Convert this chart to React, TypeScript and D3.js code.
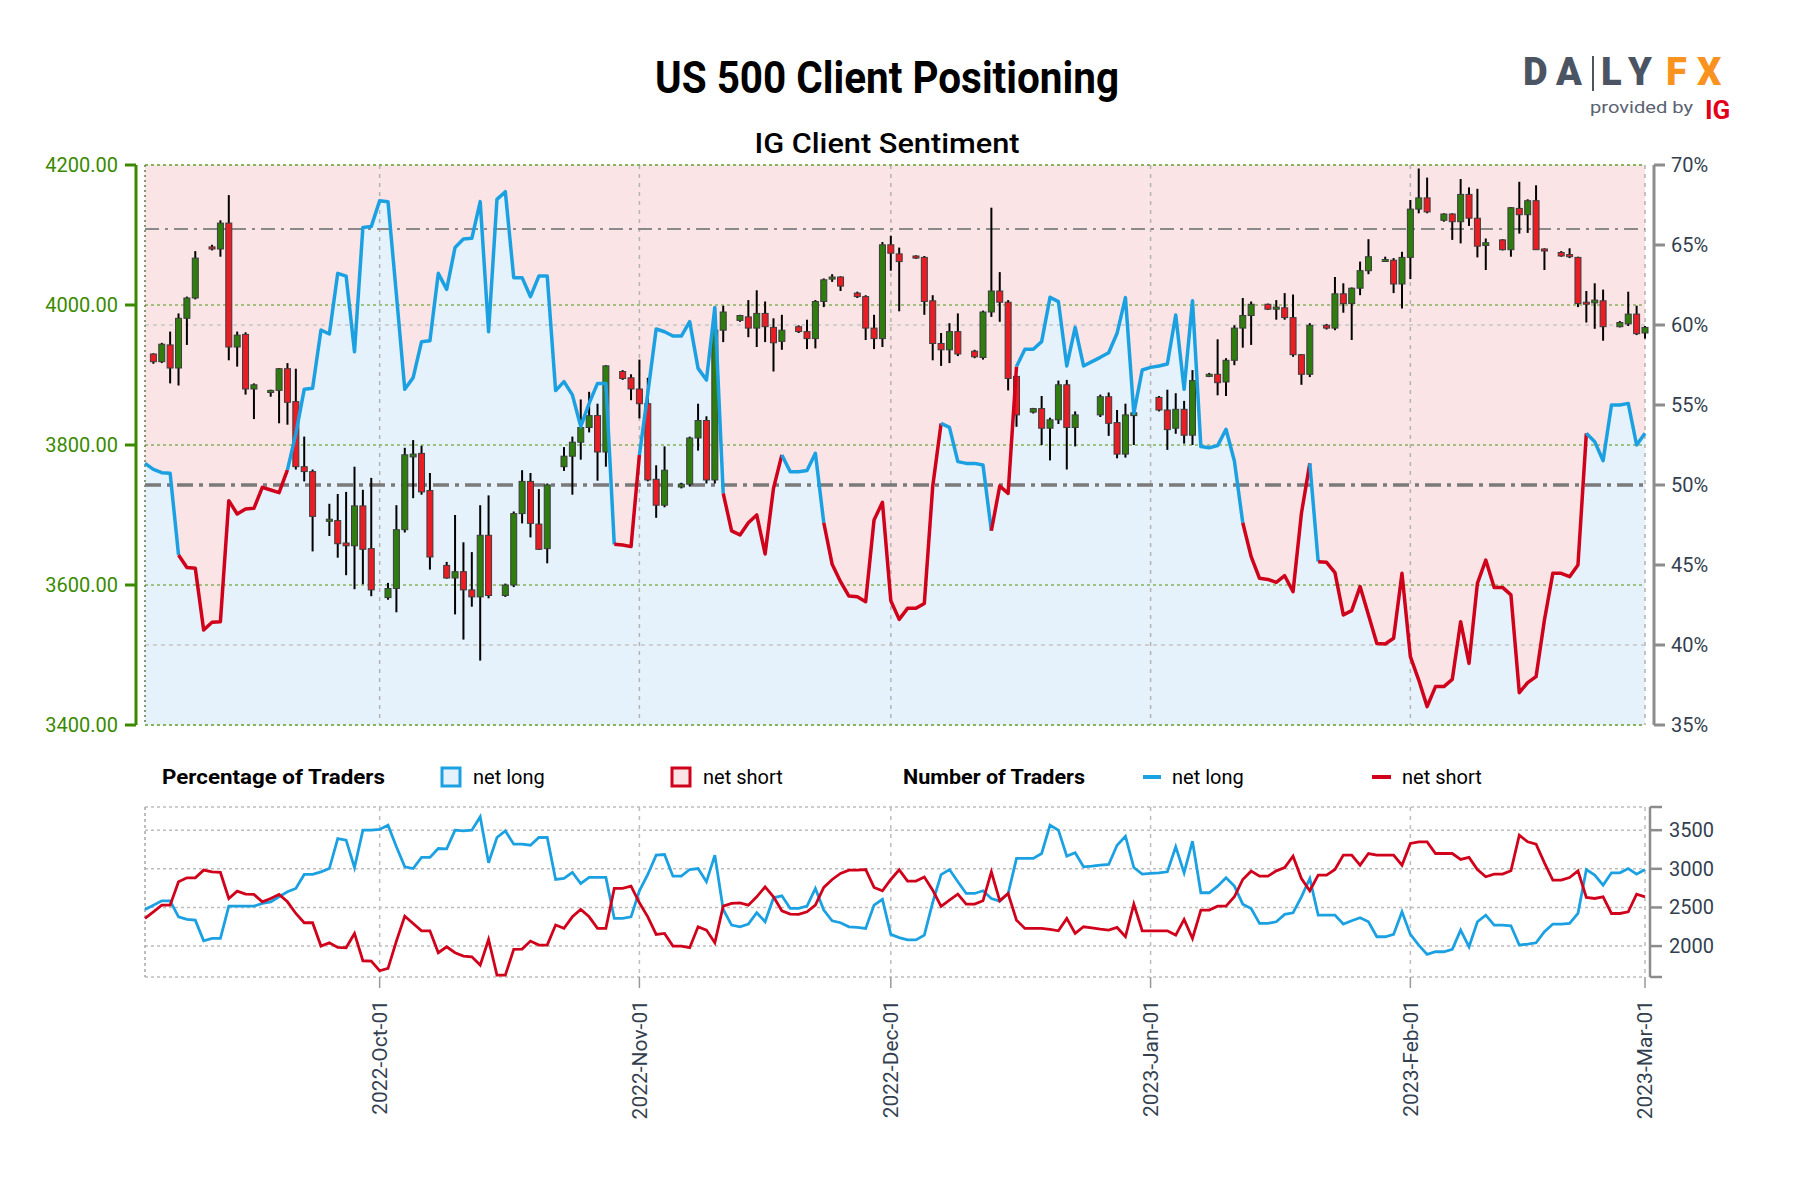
import React, { useRef, useEffect } from 'react';
import * as d3 from 'd3';

// ---- data ----

// sentiment / trader counts are daily points (weekends included)
const sentimentStart = '2022-09-03';
const sentimentEnd = '2023-03-01';

// % of clients net long
const netLongPct = [
  51.35, 50.98, 50.77, 50.73, 45.63, 44.85, 44.79, 40.94, 41.42, 41.46,
  49.02, 48.19, 48.5, 48.54, 49.85, 49.69, 49.52, 50.94, 53.2, 55.98,
  56.04, 59.69, 59.44, 63.23, 63.06, 58.33, 66.1, 66.15, 67.77, 67.71,
  61.9, 55.98, 56.71, 58.96, 59.02, 63.23, 62.23, 64.85, 65.38, 65.42,
  67.71, 59.58, 67.85, 68.33, 62.96, 62.96, 61.77, 63.06, 63.06, 55.9,
  56.46, 55.63, 53.65, 55.1, 56.35, 56.35, 46.29, 46.25, 46.15, 51.88,
  55.73, 59.75, 59.58, 59.31, 59.31, 60.21, 57.29, 56.56, 61.1, 49.48,
  47.13, 46.88, 47.64, 48.13, 45.69, 49.79, 51.88, 50.83, 50.83, 50.9,
  51.98, 47.64, 45.04, 43.96, 43.06, 43.02, 42.71, 47.81, 48.92, 42.77,
  41.6, 42.29, 42.29, 42.6, 49.9, 53.85, 53.6, 51.46, 51.35, 51.35,
  51.25, 47.14, 49.94, 49.48, 57.4, 58.48, 58.48, 58.96, 61.73, 61.46,
  57.44, 59.85, 57.44, 57.71, 57.98, 58.27, 59.48, 61.71, 54.48, 57.19,
  57.35, 57.44, 57.56, 60.63, 55.98, 61.52, 52.4, 52.33, 52.46, 53.48,
  51.5, 47.64, 45.52, 44.17, 44.1, 43.92, 44.33, 43.33, 48.23, 51.35,
  45.21, 45.17, 44.52, 41.88, 42.15, 43.65, 41.88, 40.1, 40.06, 40.42,
  44.48, 39.27, 37.81, 36.15, 37.4, 37.4, 37.85, 41.46, 38.85, 43.85,
  45.31, 43.6, 43.6, 43.13, 37.02, 37.65, 38.02, 41.56, 44.48, 44.48,
  44.27, 45.0, 53.23, 52.71, 51.52, 55.0, 55.0, 55.1, 52.5, 53.23
];

// number of traders net long
const longTraders = [
  2474, 2530, 2586, 2586, 2379, 2345, 2336, 2069, 2099, 2099,
  2517, 2517, 2517, 2517, 2552, 2573, 2638, 2703, 2746, 2927,
  2927, 2961, 3004, 3392, 3371, 3017, 3500, 3500, 3509, 3565,
  3285, 3026, 3004, 3147, 3147, 3263, 3259, 3500, 3491, 3500,
  3672, 3078, 3405, 3491, 3319, 3319, 3306, 3405, 3405, 2862,
  2875, 2953, 2810, 2888, 2888, 2888, 2358, 2358, 2379, 2716,
  2927, 3177, 3185, 2905, 2905, 2991, 3004, 2832, 3177, 2474,
  2272, 2250, 2285, 2431, 2315, 2625, 2651, 2487, 2487, 2517,
  2746, 2466, 2328, 2302, 2250, 2241, 2229, 2530, 2604, 2151,
  2110, 2080, 2080, 2142, 2565, 2925, 2991, 2832, 2681, 2681,
  2716, 2616, 2582, 2681, 3134, 3134, 3134, 3198, 3565, 3500,
  3164, 3207, 3026, 3034, 3047, 3056, 3306, 3422, 3017, 2931,
  2940, 2948, 2961, 3285, 2948, 3358, 2690, 2690, 2776, 2884,
  2776, 2543, 2487, 2293, 2293, 2315, 2410, 2431, 2638, 2875,
  2401, 2401, 2401, 2285, 2328, 2367, 2315, 2121, 2121, 2151,
  2444, 2151, 2013, 1892, 1927, 1927, 1957, 2207, 1991, 2315,
  2401, 2272, 2272, 2263, 2013, 2026, 2043, 2186, 2285, 2285,
  2293, 2422, 2991, 2918, 2789, 2948, 2948, 3004, 2931, 2991
];

// number of traders net short
const shortTraders = [
  2358, 2444, 2530, 2530, 2832, 2884, 2884, 2983, 2961, 2953,
  2616, 2711, 2672, 2668, 2573, 2616, 2668, 2573, 2422, 2302,
  2302, 2000, 2043, 1983, 1979, 2164, 1810, 1806, 1681, 1711,
  2065, 2388, 2293, 2198, 2198, 1914, 1991, 1914, 1871, 1862,
  1754, 2086, 1625, 1625, 1957, 1961, 2065, 2013, 2013, 2272,
  2229, 2379, 2474, 2379, 2229, 2229, 2746, 2746, 2776, 2560,
  2379, 2151, 2164, 2000, 2000, 1979, 2250, 2207, 2043, 2517,
  2552, 2560, 2530, 2638, 2767, 2638, 2457, 2414, 2410, 2444,
  2530, 2759, 2862, 2940, 2983, 2983, 2991, 2759, 2716, 2862,
  2987, 2841, 2841, 2893, 2724, 2513, 2595, 2672, 2543, 2543,
  2586, 2961, 2586, 2681, 2336, 2229, 2229, 2229, 2216, 2198,
  2358, 2164, 2250, 2237, 2220, 2207, 2241, 2121, 2543, 2198,
  2198, 2198, 2198, 2142, 2345, 2099, 2466, 2466, 2517, 2517,
  2638, 2862, 2970, 2905, 2905, 2974, 3017, 3164, 2875, 2716,
  2918, 2918, 2991, 3177, 3177, 3047, 3198, 3177, 3177, 3177,
  3047, 3328, 3349, 3349, 3198, 3198, 3198, 3121, 3147, 2991,
  2897, 2931, 2931, 2974, 3435, 3349, 3319, 3078, 2853, 2853,
  2888, 2974, 2629, 2616, 2638, 2422, 2422, 2444, 2672, 2638
];

// daily US 500 candles, Sunday..Friday sessions (no Saturdays)
const candleFirst = '2022-09-04';
const candleLast = '2023-03-01';
const marketClosed = ['2022-12-25', '2023-01-01'];

const opens = [
  3930, 3919, 3943, 3910, 3981, 4010, 4083, 4080, 4117, 3940, 3958, 3880,
  3875, 3878, 3909, 3862, 3769, 3762, 3691, 3692, 3660, 3656, 3713, 3652,
  3582, 3595, 3679, 3783, 3788, 3735, 3628, 3610, 3619, 3593, 3583, 3671,
  3585, 3600, 3702, 3748, 3687, 3652, 3769, 3784, 3804, 3825, 3842, 3790,
  3905, 3896, 3880, 3859, 3751, 3714, 3740, 3744, 3810, 3835, 3750, 3964,
  3978, 3983, 3967, 3988, 3968, 3948, 3969, 3962, 3952, 4005, 4037, 4040,
  4017, 4012, 3967, 3952, 4086, 4073, 4070, 4068, 4006, 3945, 3936, 3962,
  3934, 3925, 3990, 4020, 4004, 3898, 3847, 3852, 3824, 3836, 3886, 3825,
  3843, 3869, 3832, 3787, 3842, 3868, 3850, 3824, 3851, 3814,
  3898, 3901, 3890, 3921, 3967, 3985, 4001, 3994, 3996, 3982, 3929, 3901,
  3971, 3967, 4016, 4002, 4024, 4049, 4064, 4064, 4030, 4068, 4137, 4153,
  4121, 4130, 4119, 4158, 4124, 4085, 4093, 4079, 4138, 4129, 4149, 4080,
  4075, 4072, 4068, 4004, 4003, 4006, 3969, 3973, 3987, 3960
];
const highs = [
  3931, 3946, 3962, 3988, 4012, 4077, 4086, 4121, 4157, 3962, 3961, 3888,
  3879, 3910, 3917, 3909, 3812, 3765, 3716, 3730, 3733, 3769, 3736, 3753,
  3603, 3714, 3796, 3807, 3799, 3760, 3633, 3700, 3661, 3647, 3714, 3728,
  3602, 3705, 3764, 3760, 3737, 3745, 3797, 3812, 3865, 3876, 3859, 3914,
  3907, 3901, 3922, 3896, 3771, 3798, 3746, 3812, 3859, 3841, 3996, 3999,
  3986, 4007, 4021, 4005, 3981, 3986, 3971, 3979, 4007, 4038, 4044, 4041,
  4019, 4014, 3986, 4090, 4099, 4082, 4071, 4070, 4014, 3960, 3974, 3988,
  3936, 3992, 4139, 4047, 4007, 3898, 3853, 3870, 3839, 3892, 3893, 3848,
  3872, 3875, 3850, 3859, 3860, 3870, 3879, 3874, 3863, 3907,
  3903, 3951, 3924, 3971, 4010, 4005, 4002, 4007, 4017, 4015, 3930, 3974,
  3973, 4040, 4031, 4025, 4062, 4094, 4069, 4067, 4076, 4150, 4195, 4182,
  4131, 4131, 4180, 4168, 4166, 4095, 4094, 4140, 4176, 4151, 4171, 4081,
  4077, 4081, 4069, 4020, 4031, 4022, 3977, 4019, 3999, 3970
];
const lows = [
  3916, 3917, 3888, 3885, 3943, 4008, 4078, 4069, 3921, 3912, 3872, 3837,
  3869, 3831, 3829, 3765, 3748, 3648, 3670, 3639, 3614, 3594, 3601, 3584,
  3579, 3561, 3675, 3724, 3729, 3622, 3609, 3558, 3522, 3569, 3492, 3581,
  3583, 3597, 3688, 3668, 3650, 3631, 3763, 3729, 3779, 3818, 3749, 3769,
  3893, 3864, 3838, 3748, 3696, 3711, 3738, 3741, 3792, 3745, 3745, 3947,
  3976, 3954, 3940, 3947, 3905, 3936, 3960, 3937, 3938, 3997, 4033, 4020,
  4010, 3950, 3937, 3940, 4049, 3991, 4066, 3986, 3921, 3913, 3917, 3927,
  3924, 3922, 3983, 3976, 3878, 3826, 3845, 3800, 3778, 3830, 3765, 3798,
  3840, 3813, 3781, 3782, 3800, 3848, 3793, 3816, 3802, 3800,
  3897, 3871, 3870, 3914, 3939, 3943, 3993, 3979, 3979, 3926, 3886, 3897,
  3965, 3964, 3989, 3950, 4014, 4044, 4063, 4017, 3995, 4037, 4131, 4131,
  4119, 4093, 4088, 4113, 4068, 4050, 4078, 4069, 4102, 4103, 4079, 4050,
  4069, 4067, 3997, 3975, 3966, 3949, 3968, 3970, 3957, 3952
];
const closes = [
  3919, 3944, 3910, 3981, 4010, 4067, 4080, 4117, 3940, 3957, 3880, 3886,
  3878, 3909, 3861, 3769, 3762, 3698, 3694, 3659, 3656, 3713, 3651, 3593,
  3595, 3679, 3786, 3787, 3733, 3640, 3610, 3619, 3593, 3583, 3671, 3585,
  3600, 3702, 3748, 3688, 3651, 3743, 3784, 3804, 3825, 3842, 3790, 3913,
  3895, 3880, 3859, 3750, 3714, 3764, 3744, 3810, 3835, 3750, 3964, 3990,
  3985, 3967, 3988, 3969, 3946, 3964, 3962, 3952, 4005, 4036, 4040, 4027,
  4012, 3967, 3952, 4086, 4074, 4062, 4067, 4005, 3945, 3936, 3962, 3930,
  3926, 3990, 4020, 4004, 3895, 3843, 3852, 3824, 3836, 3886, 3825, 3843,
  3869, 3831, 3787, 3843, 3846, 3850, 3822, 3851, 3814, 3892,
  3901, 3889, 3921, 3967, 3985, 4001, 3994, 3997, 3982, 3929, 3901, 3971,
  3967, 4016, 4002, 4024, 4049, 4069, 4065, 4030, 4068, 4137, 4153, 4133,
  4130, 4119, 4158, 4124, 4084, 4089, 4079, 4139, 4129, 4149, 4079, 4078,
  4070, 4069, 4002, 4003, 4007, 3969, 3975, 3987, 3959, 3968
];

const priceTicks = [3400, 3600, 3800, 4000, 4200];
const pctTicks = [35, 40, 45, 50, 55, 60, 65, 70];
const pctGrid = [40, 60];
const markerPct = 66;
const traderTicks = [2000, 2500, 3000, 3500];
const monthTicks = ['2022-10-01', '2022-11-01', '2022-12-01', '2023-01-01', '2023-02-01', '2023-03-01'];

const W = 1800;
const H = 1200;

export default function App() {
  const chartRef = useRef(null);

  useEffect(() => {
    const root = d3.select(chartRef.current);
    root.selectAll('*').remove();
    const svg = root.append('svg')
      .attr('width', W)
      .attr('height', H)
      .style('display', 'block');
    draw(svg);
  }, []);

  return <div ref={chartRef} style={{ position: 'absolute', top: 0, left: 0 }}></div>;
}

function draw(svg: any) {
  const parse = d3.timeParse('%Y-%m-%d');
  const fmt = d3.timeFormat('%Y-%m-%d');
  const blue = '#1ba1e2';
  const red = '#d0021b';
  const green = '#3a8a00';
  const slate = '#333f4f';

  // plot boxes
  const L = 145, R = 1645, T = 165, B = 725;
  const T2 = 807, B2 = 977;

  const x = d3.scaleTime().domain([parse(sentimentStart), parse(sentimentEnd)]).range([L, R]);
  const yPrice = d3.scaleLinear().domain([3400, 4200]).range([B, T]);
  const yPct = d3.scaleLinear().domain([35, 70]).range([B, T]);
  const yCount = d3.scaleLinear().domain([1600, 3800]).range([B2, T2]);

  const sDates = d3.timeDay.range(parse(sentimentStart), d3.timeDay.offset(parse(sentimentEnd), 1));
  const sentiment = sDates
    .map((d, i) => ({ date: d, pct: netLongPct[i], long: longTraders[i], short: shortTraders[i] }))
    .filter(d => d.pct != null);

  const cDates = d3.timeDay.range(parse(candleFirst), d3.timeDay.offset(parse(candleLast), 1))
    .filter(d => d.getDay() !== 6 && !marketClosed.includes(fmt(d)));
  const candles = cDates
    .map((d, i) => ({ date: d, o: opens[i], h: highs[i], l: lows[i], c: closes[i] }))
    .filter(d => d.o != null);

  const months = monthTicks.map(m => parse(m));

  svg.attr('font-family', 'Roboto, "Noto Sans", sans-serif');
  svg.append('rect').attr('width', W).attr('height', H).attr('fill', '#ffffff');

  // titles
  svg.append('text')
    .attr('x', 887).attr('y', 93)
    .attr('text-anchor', 'middle')
    .attr('font-size', 44).attr('font-weight', 700)
    .attr('textLength', 464).attr('lengthAdjust', 'spacingAndGlyphs')
    .attr('fill', '#000')
    .text('US 500 Client Positioning');
  svg.append('text')
    .attr('x', 887).attr('y', 153)
    .attr('text-anchor', 'middle')
    .attr('font-size', 28).attr('font-weight', 500)
    .attr('textLength', 265).attr('lengthAdjust', 'spacingAndGlyphs')
    .attr('fill', '#000')
    .text('IG Client Sentiment');

  // logo
  const logo = svg.append('g').attr('font-weight', 900).attr('font-size', 38);
  [['D', 1523, '#4a5463'], ['A', 1556, '#4a5463'], ['L', 1601, '#4a5463'], ['Y', 1628, '#4a5463'],
    ['F', 1666, '#f7931e'], ['X', 1697, '#f7931e']].forEach(([ch, lx, col]) => {
    logo.append('text').attr('x', lx).attr('y', 85).attr('fill', col).text(ch);
  });
  logo.append('line')
    .attr('x1', 1593).attr('x2', 1593).attr('y1', 56).attr('y2', 91)
    .attr('stroke', '#4a5463').attr('stroke-width', 2);
  svg.append('text')
    .attr('x', 1590).attr('y', 113)
    .attr('font-size', 17).attr('fill', '#5a6270')
    .attr('textLength', 103).attr('lengthAdjust', 'spacingAndGlyphs')
    .text('provided by');
  svg.append('text')
    .attr('x', 1705).attr('y', 119)
    .attr('font-size', 26).attr('font-weight', 700).attr('fill', '#e2001a')
    .text('IG');

  // ---------------- main panel ----------------
  const main = svg.append('g');
  main.append('rect')
    .attr('x', L).attr('y', T).attr('width', R - L).attr('height', B - T)
    .attr('fill', '#fbe4e6');
  main.append('path')
    .datum(sentiment)
    .attr('fill', '#e5f2fb')
    .attr('d', d3.area<any>().x(d => x(d.date)).y0(B).y1(d => yPct(d.pct)));

  // vertical month grid
  months.forEach(m => {
    main.append('line')
      .attr('x1', x(m)).attr('x2', x(m)).attr('y1', T).attr('y2', B)
      .attr('stroke', '#b3b3b3').attr('stroke-width', 1.5).attr('stroke-dasharray', '4,5');
  });
  // right-axis grid
  pctGrid.forEach(p => {
    main.append('line')
      .attr('x1', L).attr('x2', R).attr('y1', yPct(p)).attr('y2', yPct(p))
      .attr('stroke', '#c6c6c6').attr('stroke-width', 1.5).attr('stroke-dasharray', '4,4');
  });
  // left-axis grid
  priceTicks.forEach(p => {
    main.append('line')
      .attr('x1', L).attr('x2', R).attr('y1', yPrice(p)).attr('y2', yPrice(p))
      .attr('stroke', '#86b35d').attr('stroke-width', p === 4200 || p === 3400 ? 2 : 1.5)
      .attr('stroke-dasharray', '3,3');
  });
  main.append('line')
    .attr('x1', L).attr('x2', L).attr('y1', T).attr('y2', B)
    .attr('stroke', '#5d7a45').attr('stroke-width', 1.5).attr('stroke-dasharray', '2,3');
  main.append('line')
    .attr('x1', L).attr('x2', R).attr('y1', yPct(markerPct)).attr('y2', yPct(markerPct))
    .attr('stroke', '#8a8a8a').attr('stroke-width', 2).attr('stroke-dasharray', '14,6,3,6');
  main.append('line')
    .attr('x1', L).attr('x2', R).attr('y1', yPct(50)).attr('y2', yPct(50))
    .attr('stroke', '#7a7a7a').attr('stroke-width', 3.5).attr('stroke-dasharray', '16,6,4,6');

  // candles
  const cw = 6;
  const cg = main.append('g');
  candles.forEach(d => {
    const cx = x(d.date);
    cg.append('line')
      .attr('x1', cx).attr('x2', cx).attr('y1', yPrice(d.h)).attr('y2', yPrice(d.l))
      .attr('stroke', '#000').attr('stroke-width', 2);
    const top = yPrice(Math.max(d.o, d.c));
    const hgt = Math.max(2, Math.abs(yPrice(d.o) - yPrice(d.c)));
    cg.append('rect')
      .attr('x', cx - cw / 2).attr('y', top).attr('width', cw).attr('height', hgt)
      .attr('fill', d.c > d.o ? '#2e7d0e' : '#ea1d25')
      .attr('stroke', '#3d3d3d').attr('stroke-width', 1);
  });

  // sentiment line, coloured by the side it starts from
  const runs: any[] = [];
  for (let i = 0; i < sentiment.length - 1; i++) {
    const col = sentiment[i].pct >= 50 ? blue : red;
    const last = runs[runs.length - 1];
    if (last && last.col === col) last.pts.push(sentiment[i + 1]);
    else runs.push({ col, pts: [sentiment[i], sentiment[i + 1]] });
  }
  const sLine = d3.line<any>().x(d => x(d.date)).y(d => yPct(d.pct));
  runs.forEach(r => {
    main.append('path')
      .attr('d', sLine(r.pts))
      .attr('fill', 'none').attr('stroke', r.col)
      .attr('stroke-width', 3.5).attr('stroke-linejoin', 'round');
  });

  // left axis (price)
  const la = svg.append('g');
  la.append('line')
    .attr('x1', 136).attr('x2', 136).attr('y1', T).attr('y2', B)
    .attr('stroke', green).attr('stroke-width', 3);
  priceTicks.forEach(p => {
    la.append('line')
      .attr('x1', 125).attr('x2', 136).attr('y1', yPrice(p)).attr('y2', yPrice(p))
      .attr('stroke', green).attr('stroke-width', 3);
    la.append('text')
      .attr('x', 118).attr('y', yPrice(p)).attr('dy', '0.35em')
      .attr('text-anchor', 'end').attr('font-size', 20).attr('fill', green)
      .text(d3.format('.2f')(p));
  });

  // right axis (percent)
  const ra = svg.append('g');
  ra.append('line')
    .attr('x1', 1654).attr('x2', 1654).attr('y1', T).attr('y2', B)
    .attr('stroke', '#8c8c8c').attr('stroke-width', 3);
  pctTicks.forEach(p => {
    ra.append('line')
      .attr('x1', 1654).attr('x2', 1665).attr('y1', yPct(p)).attr('y2', yPct(p))
      .attr('stroke', '#8c8c8c').attr('stroke-width', 3);
    ra.append('text')
      .attr('x', 1671).attr('y', yPct(p)).attr('dy', '0.35em')
      .attr('font-size', 20).attr('fill', slate)
      .text(p + '%');
  });

  // ---------------- legend ----------------
  const lg = svg.append('g');
  const ly = 784;
  lg.append('text').attr('x', 162).attr('y', ly)
    .attr('font-size', 21).attr('font-weight', 700)
    .attr('textLength', 223).attr('lengthAdjust', 'spacingAndGlyphs')
    .text('Percentage of Traders');
  lg.append('rect').attr('x', 442).attr('y', 768).attr('width', 18).attr('height', 18)
    .attr('fill', '#e5f2fb').attr('stroke', blue).attr('stroke-width', 3);
  lg.append('text').attr('x', 473).attr('y', ly).attr('font-size', 20).text('net long');
  lg.append('rect').attr('x', 672).attr('y', 768).attr('width', 18).attr('height', 18)
    .attr('fill', '#fbe4e6').attr('stroke', red).attr('stroke-width', 3);
  lg.append('text').attr('x', 703).attr('y', ly).attr('font-size', 20).text('net short');
  lg.append('text').attr('x', 903).attr('y', ly)
    .attr('font-size', 21).attr('font-weight', 700)
    .attr('textLength', 182).attr('lengthAdjust', 'spacingAndGlyphs')
    .text('Number of Traders');
  lg.append('line').attr('x1', 1143).attr('x2', 1161).attr('y1', 777).attr('y2', 777)
    .attr('stroke', blue).attr('stroke-width', 4);
  lg.append('text').attr('x', 1172).attr('y', ly).attr('font-size', 20).text('net long');
  lg.append('line').attr('x1', 1372).attr('x2', 1391).attr('y1', 777).attr('y2', 777)
    .attr('stroke', red).attr('stroke-width', 4);
  lg.append('text').attr('x', 1402).attr('y', ly).attr('font-size', 20).text('net short');

  // ---------------- traders panel ----------------
  const sub = svg.append('g');
  traderTicks.forEach(v => {
    sub.append('line')
      .attr('x1', L).attr('x2', R).attr('y1', yCount(v)).attr('y2', yCount(v))
      .attr('stroke', '#bdbdbd').attr('stroke-width', 1.5).attr('stroke-dasharray', '3,3');
  });
  [T2, B2].forEach(yy => {
    sub.append('line')
      .attr('x1', L).attr('x2', R).attr('y1', yy).attr('y2', yy)
      .attr('stroke', '#bdbdbd').attr('stroke-width', 1.5).attr('stroke-dasharray', '3,3');
  });
  sub.append('line')
    .attr('x1', L).attr('x2', L).attr('y1', T2).attr('y2', B2)
    .attr('stroke', '#a8a8a8').attr('stroke-width', 1.5).attr('stroke-dasharray', '3,3');
  months.forEach(m => {
    sub.append('line')
      .attr('x1', x(m)).attr('x2', x(m)).attr('y1', T2).attr('y2', B2)
      .attr('stroke', '#bdbdbd').attr('stroke-width', 1.5).attr('stroke-dasharray', '4,5');
    sub.append('line')
      .attr('x1', x(m)).attr('x2', x(m)).attr('y1', B2).attr('y2', B2 + 11)
      .attr('stroke', '#999').attr('stroke-width', 1.5);
    sub.append('text')
      .attr('transform', `translate(${x(m)},1000) rotate(-90)`)
      .attr('text-anchor', 'end').attr('dy', '0.35em')
      .attr('font-size', 21).attr('fill', slate)
      .text(d3.timeFormat('%Y-%b-%d')(m));
  });
  const longLine = d3.line<any>().x(d => x(d.date)).y(d => yCount(d.long));
  const shortLine = d3.line<any>().x(d => x(d.date)).y(d => yCount(d.short));
  sub.append('path').datum(sentiment).attr('d', longLine)
    .attr('fill', 'none').attr('stroke', blue).attr('stroke-width', 2.8);
  sub.append('path').datum(sentiment).attr('d', shortLine)
    .attr('fill', 'none').attr('stroke', red).attr('stroke-width', 2.8);

  // traders axis
  sub.append('line')
    .attr('x1', 1650).attr('x2', 1650).attr('y1', T2).attr('y2', B2)
    .attr('stroke', '#8c8c8c').attr('stroke-width', 2.5);
  [T2, B2].forEach(yy => {
    sub.append('line')
      .attr('x1', 1650).attr('x2', 1662).attr('y1', yy).attr('y2', yy)
      .attr('stroke', '#8c8c8c').attr('stroke-width', 2.5);
  });
  traderTicks.forEach(v => {
    sub.append('line')
      .attr('x1', 1650).attr('x2', 1662).attr('y1', yCount(v)).attr('y2', yCount(v))
      .attr('stroke', '#8c8c8c').attr('stroke-width', 2.5);
    sub.append('text')
      .attr('x', 1669).attr('y', yCount(v)).attr('dy', '0.35em')
      .attr('font-size', 20).attr('fill', slate)
      .text(v);
  });
}
